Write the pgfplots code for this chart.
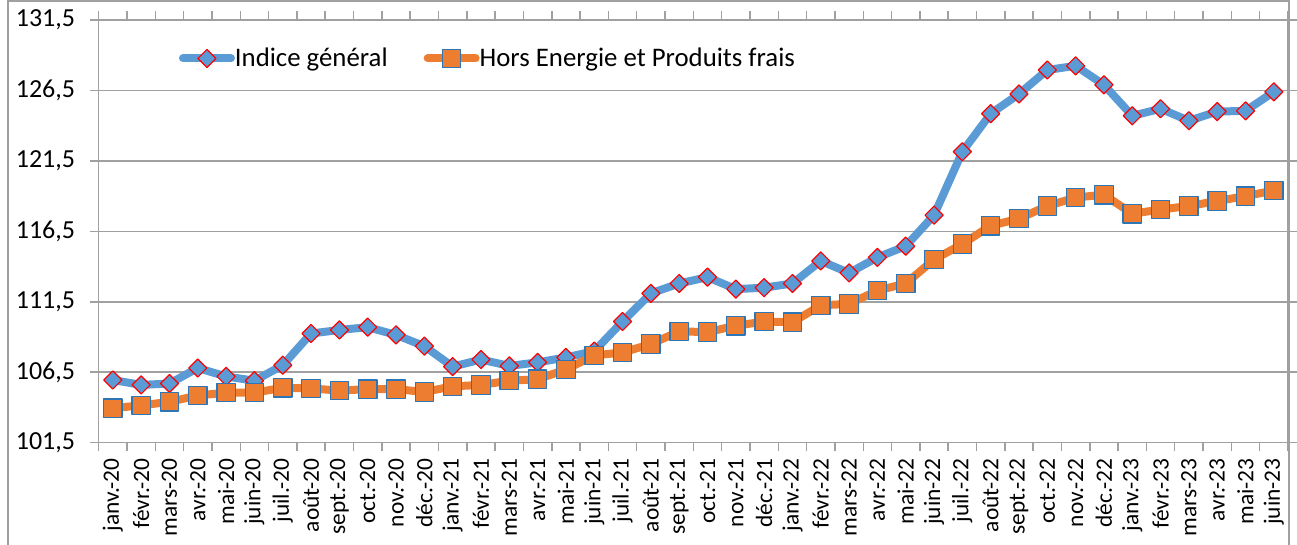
\documentclass[border=0pt]{standalone}
\usepackage{fontspec}
\setmainfont{Carlito}
\usepackage{pgfplots}
\pgfplotsset{compat=1.18}
\definecolor{cblue}{HTML}{5B9BD5}
\definecolor{corange}{HTML}{ED7D31}
\definecolor{cgrid}{HTML}{A0A0A0}
\definecolor{cmkb}{HTML}{2E75B6}
\pgfplotstableread{
x y
0 105.95
1 105.6
2 105.7
3 106.8
4 106.2
5 105.9
6 107.0
7 109.25
8 109.5
9 109.7
10 109.15
11 108.35
12 106.9
13 107.4
14 106.95
15 107.2
16 107.55
17 108.0
18 110.1
19 112.1
20 112.8
21 113.25
22 112.4
23 112.5
24 112.8
25 114.4
26 113.55
27 114.65
28 115.45
29 117.65
30 122.15
31 124.85
32 126.25
33 127.95
34 128.25
35 126.9
36 124.7
37 125.2
38 124.35
39 125.0
40 125.05
41 126.4
}\general
\pgfplotstableread{
x y
0 103.95
1 104.15
2 104.4
3 104.85
4 105.05
5 105.05
6 105.4
7 105.35
8 105.2
9 105.3
10 105.3
11 105.1
12 105.5
13 105.6
14 105.9
15 106.0
16 106.7
17 107.7
18 107.9
19 108.5
20 109.4
21 109.35
22 109.8
23 110.1
24 110.05
25 111.25
26 111.35
27 112.3
28 112.8
29 114.5
30 115.6
31 116.9
32 117.4
33 118.3
34 118.9
35 119.1
36 117.75
37 118.05
38 118.3
39 118.65
40 119.0
41 119.4
}\horsenergie
\begin{document}
\begin{tikzpicture}
\useasboundingbox (0,0) rectangle (648.5pt,272.5pt);
\draw[cgrid, line width=0.8pt] (4pt,-5pt) -- (4pt,272pt) -- (644.5pt,272pt) -- (644.5pt,-5pt);
\begin{axis}[
  at={(49.35pt,51.15pt)}, anchor=south west,
  scale only axis, width=594.65pt, height=211.35pt,
  xmin=-0.5, xmax=41.5, ymin=101.5, ymax=131.5,
  ytick={101.5,106.5,111.5,116.5,121.5,126.5,131.5},
  yticklabels={{101,5},{106,5},{111,5},{116,5},{121,5},{126,5},{131,5}},
  x tick label as interval,
  xtick={-0.5,0.5,...,41.5},
  xticklabels={janv.-20,févr.-20,mars-20,avr.-20,mai-20,juin-20,juil.-20,août-20,sept.-20,oct.-20,nov.-20,déc.-20,
               janv.-21,févr.-21,mars-21,avr.-21,mai-21,juin-21,juil.-21,août-21,sept.-21,oct.-21,nov.-21,déc.-21,
               janv.-22,févr.-22,mars-22,avr.-22,mai-22,juin-22,juil.-22,août-22,sept.-22,oct.-22,nov.-22,déc.-22,
               janv.-23,févr.-23,mars-23,avr.-23,mai-23,juin-23},
  ymajorgrids,
  major grid style={cgrid, line width=0.75pt},
  axis line style={cgrid, line width=0.75pt},
  tick style={cgrid, line width=0.75pt},
  tick align=outside,
  major tick length=4.3pt,
  yticklabel style={font=\fontsize{13}{15}\selectfont, text=black, xshift=-4pt},
  xticklabel style={font=\fontsize{11.7}{13}\selectfont, rotate=90, anchor=east, text=black},
  legend style={at={(0.0621,0.909)}, anchor=west, draw=none, fill=none,
    font=\fontsize{13.4}{16}\selectfont, legend columns=2,
    /tikz/every odd column/.append style={column sep=-2pt},
    /tikz/every even column/.append style={column sep=16pt}},
  legend image code/.code={\draw[mark repeat=2,mark phase=2] plot coordinates {(0pt,0pt) (12pt,0pt) (24pt,0pt)};},
]
\addplot[cblue, line width=4pt, line join=round, line cap=round, mark=square*, mark size=3.2pt,
  mark options={rotate=45, fill=cblue, draw=red, line width=0.6pt}] table[x=x,y=y] {\general};
\addlegendentry{Indice général}
\addplot[corange, line width=4pt, line join=round, line cap=round, mark=square*, mark size=4.6pt,
  mark options={fill=corange, draw=cmkb, line width=0.6pt}] table[x=x,y=y] {\horsenergie};
\addlegendentry{Hors Energie et Produits frais}
\end{axis}
\end{tikzpicture}
\end{document}
